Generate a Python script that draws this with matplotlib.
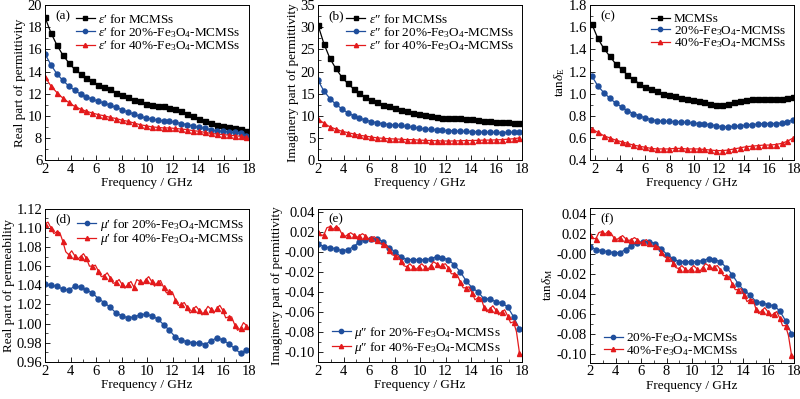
import matplotlib
matplotlib.use('Agg')
import matplotlib.pyplot as plt
import numpy as np
from matplotlib.ticker import MultipleLocator, FormatStrFormatter

plt.rcParams['font.family'] = ['Liberation Serif', 'DejaVu Serif']
plt.rcParams['mathtext.fontset'] = 'custom'
plt.rcParams['mathtext.rm'] = 'Liberation Serif'
plt.rcParams['mathtext.it'] = 'Liberation Serif:italic'
plt.rcParams['xtick.direction'] = 'in'
plt.rcParams['ytick.direction'] = 'in'

# frequency grid of the marked points (GHz)
freq = np.linspace(2.0, 17.8, 35)
freq_c = np.linspace(1.75, 17.95, 35)

# (a) real permittivity
eps1_mcms = [18.9, 17.5, 16.4, 15.5, 14.8, 14.2, 13.8, 13.4, 13.1, 12.8, 12.6, 12.4,
             12.1, 11.9, 11.7, 11.45, 11.3, 11.1, 11.0, 10.9, 10.85, 10.7, 10.6, 10.4,
             10.2, 9.95, 9.75, 9.5, 9.35, 9.2, 9.1, 9.0, 8.9, 8.8, 8.6]
eps1_20 = [15.6, 14.6, 13.8, 13.2, 12.7, 12.3, 11.95, 11.7, 11.5, 11.3, 11.15, 10.95,
           10.75, 10.55, 10.35, 10.15, 9.95, 9.8, 9.7, 9.6, 9.55, 9.5, 9.4, 9.3,
           9.2, 9.05, 8.95, 8.85, 8.75, 8.65, 8.6, 8.55, 8.5, 8.4, 8.2]
eps1_40 = [13.5, 12.7, 12.1, 11.6, 11.2, 10.85, 10.6, 10.4, 10.25, 10.1, 10.0, 9.85,
           9.75, 9.6, 9.5, 9.35, 9.2, 9.1, 9.0, 8.95, 8.9, 8.9, 8.85, 8.8,
           8.75, 8.65, 8.6, 8.5, 8.4, 8.35, 8.3, 8.25, 8.2, 8.15, 8.05]

# (b) imaginary permittivity
eps2_mcms = [30.5, 26.3, 23.0, 20.7, 18.8, 17.3, 16.1, 15.1, 14.2, 13.5, 13.0, 12.5,
             12.1, 11.8, 11.4, 11.0, 10.7, 10.4, 10.2, 10.0, 9.8, 9.6, 9.5, 9.45,
             9.4, 9.3, 9.2, 9.1, 8.9, 8.8, 8.6, 8.5, 8.5, 8.4, 8.3]
eps2_20 = [18.0, 15.6, 13.9, 12.6, 11.6, 10.7, 10.0, 9.5, 9.0, 8.7, 8.4, 8.2,
           8.0, 7.9, 7.8, 7.6, 7.4, 7.2, 7.0, 6.9, 6.8, 6.7, 6.65, 6.6,
           6.5, 6.45, 6.4, 6.35, 6.3, 6.3, 6.25, 6.2, 6.25, 6.3, 6.3]
eps2_40 = [9.3, 8.3, 7.5, 7.0, 6.5, 6.2, 5.9, 5.6, 5.4, 5.2, 5.0, 4.9,
           4.8, 4.75, 4.7, 4.6, 4.6, 4.5, 4.45, 4.4, 4.35, 4.3, 4.3, 4.3,
           4.35, 4.4, 4.4, 4.45, 4.5, 4.5, 4.55, 4.6, 4.7, 4.8, 5.0]

# (c) dielectric loss tangent
tanE_mcms = [1.63, 1.50, 1.41, 1.34, 1.27, 1.22, 1.17, 1.13, 1.09, 1.06, 1.04, 1.02,
             1.0, 0.99, 0.98, 0.96, 0.95, 0.94, 0.93, 0.92, 0.91, 0.90, 0.90, 0.91,
             0.92, 0.93, 0.94, 0.95, 0.955, 0.95, 0.95, 0.95, 0.955, 0.96, 0.97]
tanE_20 = [1.16, 1.07, 1.01, 0.96, 0.915, 0.88, 0.845, 0.82, 0.80, 0.78, 0.765, 0.755,
           0.75, 0.75, 0.745, 0.745, 0.74, 0.735, 0.73, 0.725, 0.72, 0.71, 0.70, 0.70,
           0.705, 0.71, 0.715, 0.72, 0.725, 0.73, 0.73, 0.73, 0.735, 0.745, 0.765]
tanE_40 = [0.68, 0.65, 0.62, 0.60, 0.58, 0.565, 0.55, 0.535, 0.525, 0.515, 0.505, 0.50,
           0.50, 0.50, 0.505, 0.505, 0.50, 0.50, 0.50, 0.495, 0.49, 0.485, 0.485, 0.49,
           0.50, 0.51, 0.52, 0.525, 0.53, 0.535, 0.535, 0.54, 0.55, 0.57, 0.60]

# (d) real permeability
mu1_20 = [1.041, 1.040, 1.039, 1.036, 1.035, 1.039, 1.038, 1.035, 1.032, 1.026, 1.022, 1.017,
          1.011, 1.008, 1.006, 1.007, 1.009, 1.010, 1.008, 1.005, 0.999, 0.993, 0.986, 0.983,
          0.981, 0.980, 0.980, 0.978, 0.982, 0.985, 0.983, 0.979, 0.974, 0.969, 0.972]
mu1_40 = [1.104, 1.100, 1.096, 1.086, 1.072, 1.071, 1.070, 1.068, 1.060, 1.055, 1.050, 1.048,
          1.043, 1.041, 1.041, 1.038, 1.044, 1.046, 1.044, 1.043, 1.038, 1.034, 1.025, 1.020,
          1.017, 1.015, 1.014, 1.013, 1.015, 1.016, 1.014, 1.007, 0.999, 0.995, 0.998]
# readings between the marked points (the noisy red trace)
mu1_40_mid = [1.106, 1.094, 1.095, 1.075, 1.076, 1.067, 1.073, 1.060, 1.061, 1.049, 1.053, 1.042,
              1.046, 1.037, 1.044, 1.046, 1.041, 1.049, 1.039, 1.045, 1.032, 1.033, 1.019, 1.022,
              1.011, 1.018, 1.009, 1.018, 1.011, 1.019, 1.006, 1.007, 0.993, 1.001]

# (e) imaginary permeability
mu2_20 = [0.008, 0.005, 0.004, 0.003, 0.001, 0.002, 0.005, 0.010, 0.012, 0.013, 0.013, 0.010,
          0.004, 0.000, -0.005, -0.008, -0.008, -0.008, -0.008, -0.007, -0.005, -0.006, -0.008, -0.013,
          -0.020, -0.029, -0.036, -0.040, -0.047, -0.047, -0.050, -0.051, -0.055, -0.065, -0.077]
mu2_40 = [0.020, 0.017, 0.025, 0.025, 0.018, 0.017, 0.017, 0.016, 0.016, 0.014, 0.012, 0.008,
          0.002, -0.004, -0.009, -0.015, -0.015, -0.015, -0.015, -0.014, -0.012, -0.013, -0.016, -0.022,
          -0.030, -0.036, -0.041, -0.046, -0.055, -0.057, -0.058, -0.060, -0.064, -0.070, -0.101]
mu2_40_mid = [0.016, 0.024, 0.022, 0.024, 0.015, 0.019, 0.014, 0.018, 0.013, 0.015, 0.008, 0.007,
              -0.003, -0.004, -0.014, -0.012, -0.018, -0.012, -0.018, -0.010, -0.016, -0.012, -0.022, -0.023,
              -0.036, -0.035, -0.048, -0.046, -0.060, -0.054, -0.063, -0.058, -0.071, -0.080]

# (f) magnetic loss tangent
tanM_20 = [0.007, 0.004, 0.003, 0.002, 0.001, 0.001, 0.004, 0.008, 0.011, 0.012, 0.012, 0.010,
           0.005, -0.001, -0.005, -0.008, -0.008, -0.008, -0.008, -0.007, -0.005, -0.006, -0.008, -0.014,
           -0.021, -0.030, -0.037, -0.041, -0.048, -0.049, -0.051, -0.052, -0.057, -0.067, -0.080]
tanM_40 = [0.019, 0.015, 0.022, 0.022, 0.016, 0.016, 0.015, 0.014, 0.014, 0.012, 0.011, 0.008,
           0.002, -0.004, -0.009, -0.015, -0.015, -0.015, -0.015, -0.014, -0.012, -0.013, -0.016, -0.022,
           -0.030, -0.036, -0.041, -0.046, -0.055, -0.057, -0.058, -0.060, -0.064, -0.072, -0.101]
tanM_40_mid = [0.015, 0.021, 0.019, 0.021, 0.014, 0.018, 0.013, 0.016, 0.011, 0.014, 0.007, 0.007,
               -0.003, -0.004, -0.014, -0.012, -0.018, -0.012, -0.018, -0.010, -0.016, -0.012, -0.022, -0.023,
               -0.036, -0.035, -0.048, -0.046, -0.060, -0.054, -0.063, -0.058, -0.072, -0.082]

BLACK = '#000000'
BLUE = '#1f4e9c'
RED = '#e31a1c'
FS_TICK = 10.5
FS_LAB = 9.5
FS_LEG = 9.5


def dense(x, y, ymid):
    """Interleave marked points with the readings between them."""
    x = np.asarray(x)
    xm = (x[:-1] + x[1:]) / 2
    xs = np.empty(len(x) + len(xm))
    ys = np.empty(len(x) + len(xm))
    xs[0::2], xs[1::2] = x, xm
    ys[0::2], ys[1::2] = y, ymid
    return xs, ys


def style(ax, xlim, ylim, ymaj, yfmt, ylabel, tag, tagpos=(0.05, 0.91)):
    ax.set_xlim(*xlim)
    ax.set_ylim(*ylim)
    ax.xaxis.set_major_locator(MultipleLocator(2))
    ax.xaxis.set_minor_locator(MultipleLocator(1))
    ax.yaxis.set_major_locator(MultipleLocator(ymaj))
    ax.yaxis.set_minor_locator(MultipleLocator(ymaj / 2))
    ax.yaxis.set_major_formatter(FormatStrFormatter(yfmt))
    ax.tick_params(labelsize=FS_TICK, length=3.5, width=0.6, pad=2)
    ax.tick_params(which='minor', length=2, width=0.5)
    for s in ax.spines.values():
        s.set_linewidth(0.7)
    ax.set_xlabel('Frequency / GHz', fontsize=FS_LAB, labelpad=1)
    ax.set_ylabel(ylabel, fontsize=FS_LAB, labelpad=1)
    ax.text(tagpos[0], tagpos[1], tag, transform=ax.transAxes, fontsize=FS_LEG)


def legend(ax, **kw):
    ax.legend(frameon=False, fontsize=FS_LEG, handlelength=1.4, handletextpad=0.3,
              labelspacing=-0.1, borderaxespad=0.2, markerscale=0.85, **kw)


fig = plt.figure(figsize=(8, 3.99), dpi=100)
W, H = 0.255, 0.388
ax_a = fig.add_axes([0.05625, 0.599, W, H])
ax_b = fig.add_axes([0.3975, 0.599, W, H])
ax_c = fig.add_axes([0.7375, 0.599, W, H])
ax_d = fig.add_axes([0.05625, 0.093, W, 0.384])
ax_e = fig.add_axes([0.3975, 0.093, W, 0.384])
ax_f = fig.add_axes([0.7375, 0.091, W, 0.388])

fe = r'Fe$_3$O$_4$'
e1 = '$\\varepsilon$\u2032'
e2 = '$\\varepsilon$\u2033'
m1 = '$\\mu$\u2032'
m2 = '$\\mu$\u2033'
mk = dict(lw=0.9, markersize=3.6)

# (a)
ax_a.plot(freq, eps1_mcms, 's-', color=BLACK, label=e1 + ' for MCMSs', **mk)
ax_a.plot(freq, eps1_20, 'o-', color=BLUE, label=e1 + ' for 20%-' + fe + '-MCMSs', **mk)
ax_a.plot(freq, eps1_40, '^-', color=RED, label=e1 + ' for 40%-' + fe + '-MCMSs', **mk)
style(ax_a, (2, 18), (6, 20), 2, '%d', 'Real part of permittivity', '(a)')
legend(ax_a, loc='upper right')

# (b)
ax_b.plot(freq, eps2_mcms, 's-', color=BLACK, label=e2 + ' for MCMSs', **mk)
ax_b.plot(freq, eps2_20, 'o-', color=BLUE, label=e2 + ' for 20%-' + fe + '-MCMSs', **mk)
ax_b.plot(freq, eps2_40, '^-', color=RED, label=e2 + ' for 40%-' + fe + '-MCMSs', **mk)
style(ax_b, (2, 18), (0, 35), 5, '%d', 'Imaginery part of permittivity', '(b)')
legend(ax_b, loc='upper right')

# (c)
ax_c.plot(freq_c, tanE_mcms, 's-', color=BLACK, label='MCMSs', **mk)
ax_c.plot(freq_c, tanE_20, 'o-', color=BLUE, label='20%-' + fe + '-MCMSs', **mk)
ax_c.plot(freq_c, tanE_40, '^-', color=RED, label='40%-' + fe + '-MCMSs', **mk)
style(ax_c, (1.6, 18), (0.4, 1.8), 0.2, '%.1f', r'tan$\delta_{\rm E}$', '(c)')
legend(ax_c, loc='upper right')

# (d)
ax_d.plot(freq, mu1_20, 'o-', color=BLUE, label=m1 + ' for 20%-' + fe + '-MCMSs', **mk)
xd, yd = dense(freq, mu1_40, mu1_40_mid)
ax_d.plot(xd, yd, '^-', color=RED, markevery=2, label=m1 + ' for 40%-' + fe + '-MCMSs', **mk)
style(ax_d, (2, 18), (0.96, 1.12), 0.02, '%.2f', 'Real part of permeability', '(d)')
legend(ax_d, loc='upper left', bbox_to_anchor=(0.12, 1.0))

# (e)
ax_e.plot(freq, mu2_20, 'o-', color=BLUE, label=m2 + ' for 20%-' + fe + '-MCMSs', **mk)
xe, ye = dense(freq, mu2_40, mu2_40_mid)
ax_e.plot(xe, ye, '^-', color=RED, markevery=2, label=m2 + ' for 40%-' + fe + '-MCMSs', **mk)
style(ax_e, (2, 18), (-0.11, 0.043), 0.02, '%.2f', 'Imaginery part of permittivity', '(e)')
legend(ax_e, loc='lower left', bbox_to_anchor=(0.03, -0.01))

# (f)
ax_f.plot(freq, tanM_20, 'o-', color=BLUE, label='20%-' + fe + '-MCMSs', **mk)
xf, yf = dense(freq, tanM_40, tanM_40_mid)
ax_f.plot(xf, yf, '^-', color=RED, markevery=2, label='40%-' + fe + '-MCMSs', **mk)
style(ax_f, (2, 18), (-0.109, 0.0457), 0.02, '%.2f', r'tan$\delta_{\rm M}$', '(f)')
legend(ax_f, loc='lower left', bbox_to_anchor=(0.03, -0.02))

fig.savefig('out.png', dpi=100)
